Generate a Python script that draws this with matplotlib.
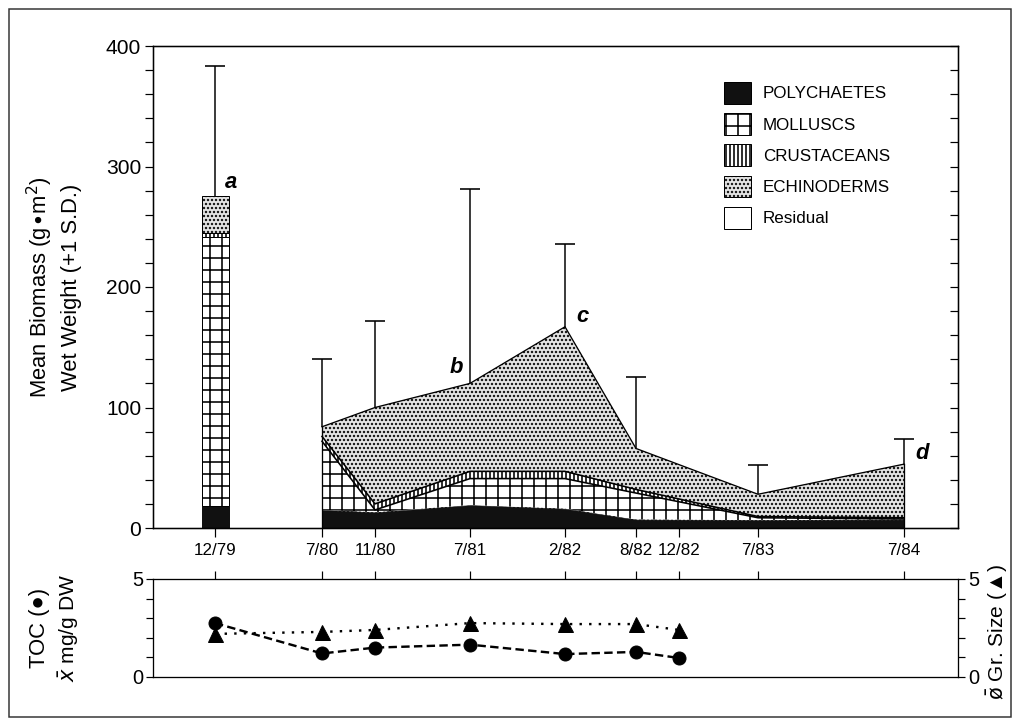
import numpy as np
import matplotlib
matplotlib.use("Agg")
import matplotlib.pyplot as plt
from matplotlib.patches import Patch, Rectangle

plt.rcParams['font.family'] = ['Liberation Sans', 'DejaVu Sans']
plt.rcParams['hatch.linewidth'] = 1.6
plt.rcParams['hatch.color'] = 'black'

# ---------------- data ----------------
date_labels = ['12/79', '7/80', '11/80', '7/81', '2/82', '8/82', '12/82', '7/83', '7/84']
date_x = [62, 169, 222, 317, 412, 483, 526, 605, 751]   # position along the time axis

# 12/79 sample (bar)
bar_label = '12/79'
bar_poly = 18.5
bar_moll = 223.0
bar_crus = 3.5
bar_echi = 30.5
bar_sd = 108.0

# later samples (stacked areas)
area_labels = ['7/80', '11/80', '7/81', '2/82', '8/82', '7/83', '7/84']
area_poly = [15, 13, 19, 16, 7, 6.5, 7]
area_moll = [57, 2, 22, 25, 22, 2, 0.5]
area_crus = [4, 5, 6, 6, 3, 1, 1]
area_total = [84, 100, 120, 167, 66, 28, 53]
area_sd = [56, 72, 161, 69, 59, 24, 21]

# lower panel
low_labels = ['12/79', '7/80', '11/80', '7/81', '2/82', '8/82', '12/82']
toc = [2.75, 1.2, 1.5, 1.65, 1.17, 1.28, 0.97]
grain = [2.2, 2.3, 2.4, 2.75, 2.7, 2.7, 2.4]

letters = {'12/79': 'a', '7/81': 'b', '2/82': 'c', '7/84': 'd'}

# ---------------- figure ----------------
DPI = 72
fig = plt.figure(figsize=(1017 / DPI, 724 / DPI), dpi=DPI)
W, H = 1017, 724

def rect(l, t, r, b):
    return [l / W, 1 - b / H, (r - l) / W, (b - t) / H]

ax = fig.add_axes(rect(153, 46, 958, 528))
ax2 = fig.add_axes(rect(153, 579, 958, 677))

pos = dict(zip(date_labels, date_x))
CAP = 10

def sd_bars(x, top, sd):
    x = np.atleast_1d(np.asarray(x, float))
    top = np.atleast_1d(np.asarray(top, float))
    sd = np.atleast_1d(np.asarray(sd, float))
    ax.vlines(x, top, top + sd, color='black', lw=1.5, zorder=5)
    ax.hlines(top + sd, x - CAP, x + CAP, color='black', lw=1.6, zorder=5)

# --- bar ---
bx = pos[bar_label]
bw = 27
ax.bar(bx, bar_poly, width=bw, color='#111111', edgecolor='#111111', lw=1)
ax.bar(bx, bar_moll, bottom=bar_poly, width=bw, facecolor='white', edgecolor='black', hatch='+', lw=1)
ax.bar(bx, bar_crus, bottom=bar_poly + bar_moll, width=bw, facecolor='white', edgecolor='black', hatch='|||', lw=1)
ax.bar(bx, bar_echi, bottom=bar_poly + bar_moll + bar_crus, width=bw, facecolor='#e6e6e6',
       edgecolor='black', hatch='...', lw=1)
bar_top = bar_poly + bar_moll + bar_crus + bar_echi
sd_bars(bx, bar_top, bar_sd)

# --- areas ---
xa = np.array([pos[d] for d in area_labels], dtype=float)
p = np.array(area_poly, float)
m = p + np.array(area_moll, float)
c = m + np.array(area_crus, float)
t = np.array(area_total, float)

ax.fill_between(xa, 0, t, facecolor='#e6e6e6', edgecolor='black', hatch='...', lw=0)
ax.fill_between(xa, m, c, facecolor='white', edgecolor='black', hatch='|||', lw=0)
ax.fill_between(xa, p, m, facecolor='white', edgecolor='black', hatch='+', lw=0)
ax.fill_between(xa, 0, p, facecolor='#111111', edgecolor='#111111', lw=0.5)
ax.plot(xa, t, color='black', lw=1.3)
ax.plot(xa, c, color='black', lw=1.6)
ax.plot(xa, m, color='black', lw=1.6)
ax.plot([xa[0], xa[0]], [0, t[0]], color='black', lw=1.3)
ax.plot([xa[-1], xa[-1]], [0, t[-1]], color='black', lw=1.3)
sd_bars(xa, t, area_sd)

# letters
tops = {bar_label: bar_top}
tops.update(dict(zip(area_labels, area_total)))
offs = {'a': (16, 14), 'b': (-14, 16), 'c': (17, 10), 'd': (18, 11)}
for d, L in letters.items():
    ax.annotate(L, (pos[d], tops[d]), xytext=offs[L], textcoords='offset points',
                ha='center', va='center', fontsize=22, fontweight='bold', fontstyle='italic')

ax.set_xlim(0, 805)
ax.set_ylim(0, 400)
ax.set_yticks([0, 100, 200, 300, 400])
ax.set_yticks(np.arange(0, 401, 20), minor=True)
ax.set_xticks(date_x)
ax.set_xticklabels(date_labels, fontsize=17)
ax.tick_params(axis='x', direction='out', length=9, width=1.2, pad=6, top=False)
ax.tick_params(axis='y', which='both', direction='out', length=8, width=1.2, labelsize=21, pad=4,
               left=True, right=False)
for s in ax.spines.values():
    s.set_linewidth(1.3)

# right inner ticks
axr = ax.twinx()
axr.set_ylim(0, 400)
axr.set_yticks(np.arange(0, 401, 20))
axr.tick_params(axis='y', direction='in', length=8, width=1.2, labelright=False)
for s in axr.spines.values():
    s.set_linewidth(1.3)

# legend
handles = [
    Patch(facecolor='#111111', edgecolor='black', label='POLYCHAETES'),
    Patch(facecolor='white', edgecolor='black', hatch='+', label='MOLLUSCS'),
    Patch(facecolor='white', edgecolor='black', hatch='|||', label='CRUSTACEANS'),
    Patch(facecolor='#e6e6e6', edgecolor='black', hatch='...', label='ECHINODERMS'),
    Patch(facecolor='white', edgecolor='black', label='Residual'),
]
leg = ax.legend(handles=handles, loc='upper left', bbox_to_anchor=(724 / W, 1 - 82 / H),
                bbox_transform=fig.transFigure, frameon=False, fontsize=17, borderpad=0,
                handlelength=1.6, handleheight=1.6, labelspacing=0.55, handletextpad=0.7,
                borderaxespad=0)

fig.text(40 / W, 1 - 287 / H, 'Mean Biomass (g$\\bullet$m$^2$)', rotation=90, ha='center',
         va='center', fontsize=22)
fig.text(71 / W, 1 - 287 / H, 'Wet Weight (+1 S.D.)', rotation=90, ha='center', va='center',
         fontsize=22)

# ---------------- lower panel ----------------
xl = [pos[d] for d in low_labels]
ax2.plot(xl, grain, linestyle=(0, (1, 3)), color='black', lw=2.4, marker='^', markersize=15,
         markerfacecolor='black', zorder=3)
ax2.plot(xl, toc, linestyle=(0, (3.5, 1.8)), color='black', lw=2.4, marker='o', markersize=13,
         markerfacecolor='black', zorder=4)
ax2.set_xlim(0, 805)
ax2.set_ylim(0, 5)
ax2.set_yticks([0, 1, 2, 3, 4, 5])
ax2.set_yticklabels(['0', '', '', '', '', '5'])
ax2.tick_params(axis='y', direction='out', length=7, width=1.2, labelsize=20, pad=3,
                left=True, right=True, labelright=True)
ax2.set_xticks(date_x)
ax2.tick_params(axis='x', direction='out', length=8, width=1.2, bottom=False, top=True,
                labelbottom=False, labeltop=False)
for s in ax2.spines.values():
    s.set_linewidth(1.3)

fig.text(40 / W, 1 - 628 / H, 'TOC (\u25cf)', rotation=90, ha='center', va='center',
         fontsize=22, family=['Liberation Sans', 'DejaVu Sans'])
fig.text(69 / W, 1 - 628 / H, '$\\bar{x}$ mg/g DW', rotation=90, ha='center', va='center',
         fontsize=21)
fig.text(997 / W, 1 - 632 / H, '$\\bar{\\mathrm{\\o}}$ Gr. Size (\u25b2)', rotation=90,
         ha='center', va='center', fontsize=21, family=['Liberation Sans', 'DejaVu Sans'])

# frame around whole figure
fig.patches.append(Rectangle((9 / W, 1 - 717 / H), 1002 / W, 708 / H, transform=fig.transFigure,
                             fill=False, edgecolor='#333333', lw=1.5))

fig.savefig('out.png', dpi=DPI)
